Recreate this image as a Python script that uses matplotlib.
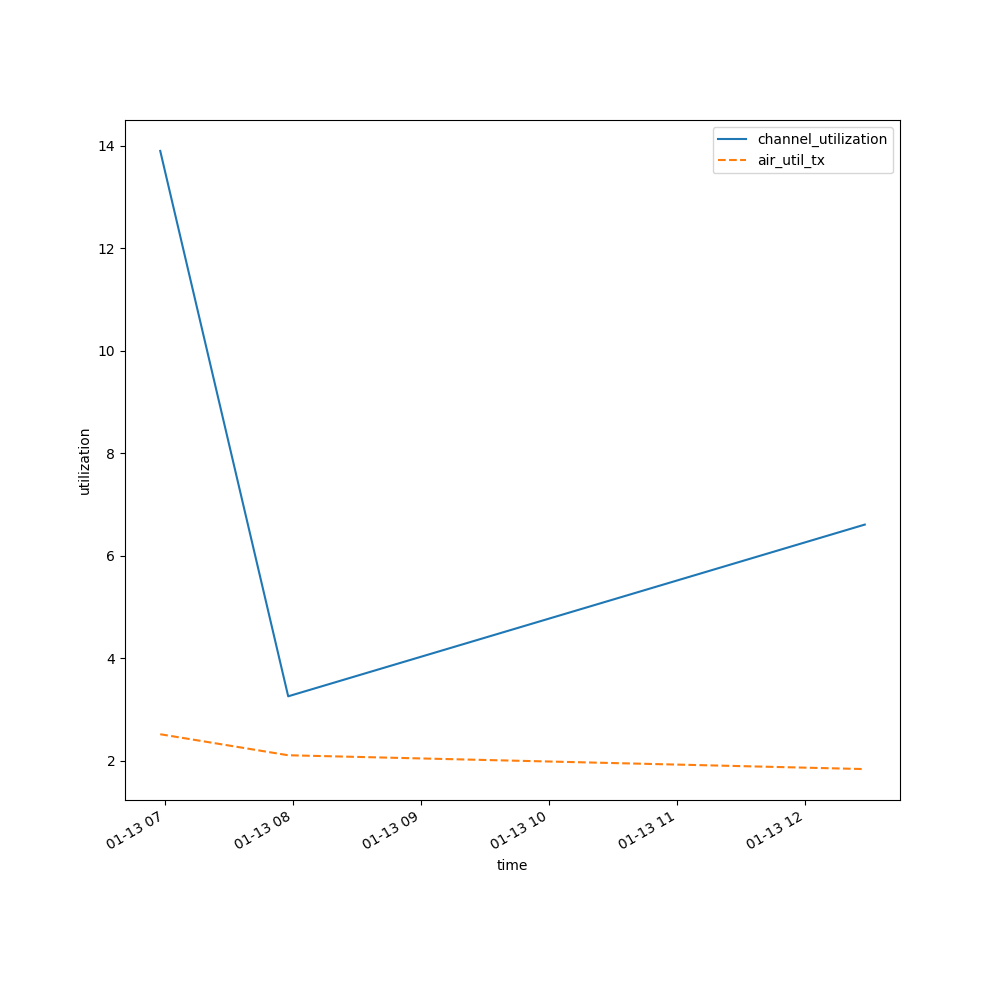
import pandas as pd
import matplotlib.pyplot as plt

# readings (times)
times = pd.to_datetime(["2025-01-13 06:57:40", "2025-01-13 07:57:40", "2025-01-13 12:28:00"])
channel_utilization = [13.9, 3.26, 6.61]
air_util_tx = [2.52, 2.11, 1.84]

fig, ax = plt.subplots(figsize=(10, 10), dpi=100)
ax.plot(times, channel_utilization, color="#1f77b4", linestyle="-", label="channel_utilization")
ax.plot(times, air_util_tx, color="#ff7f0e", linestyle="--", label="air_util_tx")
ax.set_xlabel("time")
ax.set_ylabel("utilization")
ax.legend()
fig.autofmt_xdate()
fig.savefig("out.png")
